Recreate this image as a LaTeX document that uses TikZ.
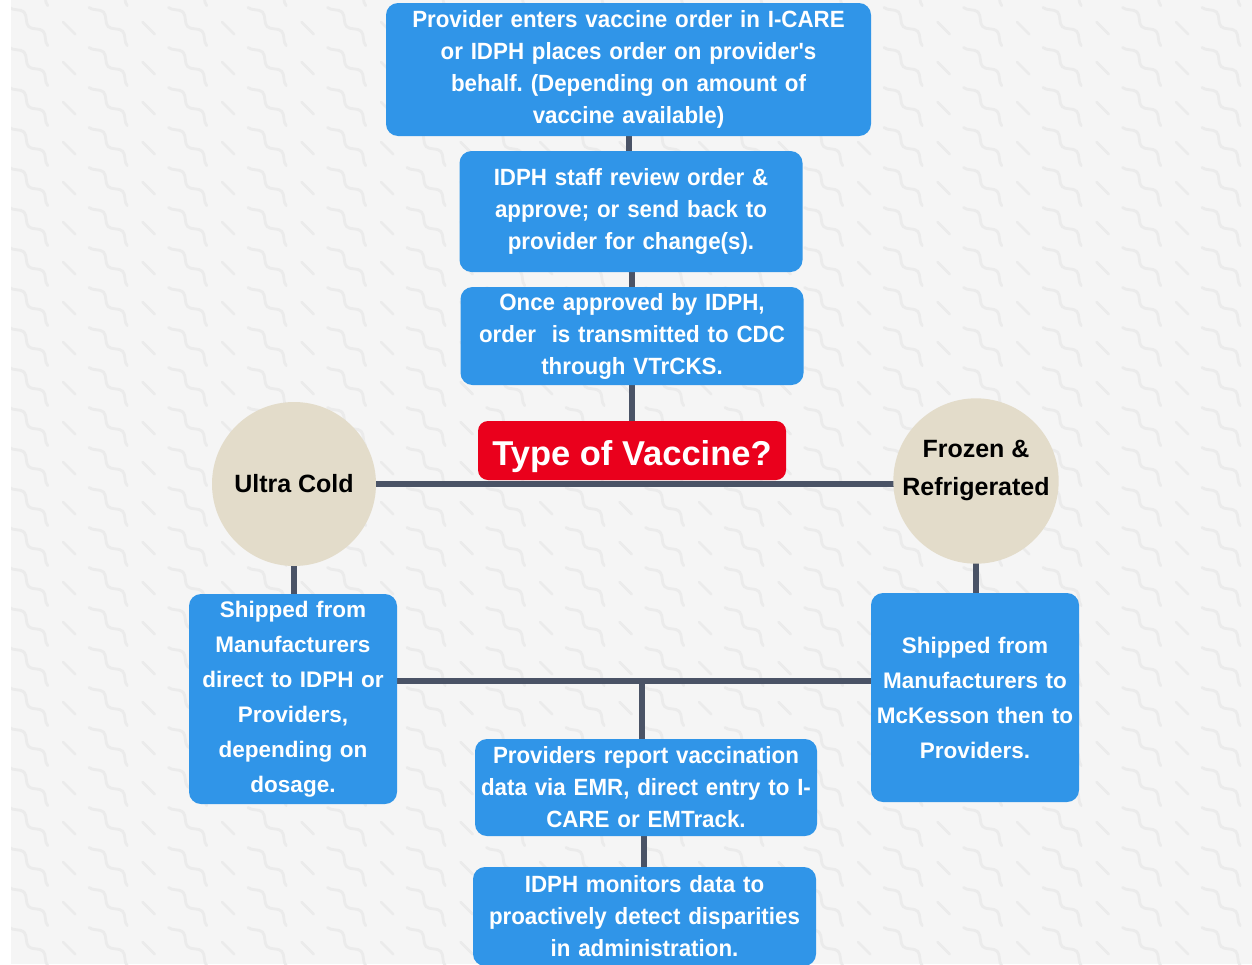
\documentclass[tikz,border=0pt]{standalone}
\usepackage{fontspec}
\setmainfont{Liberation Sans}
\newfontfamily\condfont[FakeStretch=0.95]{Liberation Sans}
\usetikzlibrary{calc}
\frenchspacing
\definecolor{bgray}{HTML}{F5F5F5}
\definecolor{patgray}{HTML}{EBEBEB}
\definecolor{boxblue}{HTML}{3095E8}
\definecolor{qred}{HTML}{EA001C}
\definecolor{beige}{HTML}{E3DCCA}
\definecolor{conngray}{HTML}{4A5366}
\pgfdeclarelayer{back}
\pgfdeclarelayer{mid}
\pgfsetlayers{back,mid,main}
\tikzset{
  pat/.style={draw=patgray, line width=2.8pt, line cap=round},
  conn/.style={draw=conngray, line width=6pt},
  bluebox/.style={fill=boxblue, rounded corners=12pt, text=white, align=center, inner sep=0pt},
  condtext/.style={font={\condfont\bfseries\frenchspacing\fontsize{23.5pt}{32pt}\selectfont}},
  widetext/.style={font={\bfseries\fontsize{22.5pt}{35pt}\selectfont}},
  typebox/.style={fill=qred, rounded corners=10pt, text=white, align=center, inner sep=0pt,
    font={\bfseries\fontsize{34.5pt}{40pt}\selectfont}},
  tempcircle/.style={circle, fill=beige, minimum size=164pt, inner sep=0pt, align=center,
    text=black, font={\bfseries\fontsize{25pt}{38pt}\selectfont}}
}
\begin{document}
\begin{tikzpicture}[x=1pt,y=-1pt]
\useasboundingbox (0,0) rectangle (1252,964);
\begin{pgfonlayer}{back}
  \fill[white] (0,0) rectangle (1252,964);
  \fill[bgray] (11,0) rectangle (1252,964);
  \begin{scope}
    \clip (11,0) rectangle (1252,964);
    \foreach \i in {0,...,15} {
      \foreach \j in {-1,...,24} {
        \draw[pat, shift={({12+79.5*\i},{5+40*\j})}, rotate=-45]
          (0,3.5) cos (6.75,0) sin (13.5,-3.5) cos (20.25,0) sin (27,3.5)
          cos (33.75,0) sin (40.5,-3.5) cos (47.25,0) sin (54,3.5);
        \draw[pat, shift={({63+79.5*\i},{22+40*\j})}, rotate=-45] (0,0) -- (17,0);
      }
    }
  \end{scope}
\end{pgfonlayer}

\node[bluebox, condtext, minimum width=485pt, minimum height=133pt, text width=485pt] (b1) at (628.5,69.5)
  {Provider enters vaccine order in I-CARE\\or IDPH places order on provider's\\behalf. (Depending on amount of\\vaccine available)};
\node[bluebox, condtext, minimum width=343pt, minimum height=121pt, text width=343pt] (b2) at (631,211.5)
  {IDPH staff review order \&\\approve; or send back to\\provider for change(s).};
\node[bluebox, condtext, minimum width=343pt, minimum height=98pt, text width=343pt] (b3) at (632,336)
  {Once approved by IDPH,\\order\ \ is transmitted to CDC\\through VTrCKS.};
\node[typebox, minimum width=308pt, minimum height=59pt] (tv) at (632,450.5)
  {\raisebox{-6pt}[\height][\depth]{Type of Vaccine?}};
\node[tempcircle] (uc) at (294,484) {Ultra Cold};
\node[tempcircle] (fz) at (976,481)
  {\raisebox{12pt}[\height][\depth]{\begin{tabular}{@{}c@{}}Frozen \&\\Refrigerated\end{tabular}}};
\node[bluebox, widetext, minimum width=208pt, minimum height=210pt, text width=208pt] (lb) at (293,699)
  {Shipped from\\Manufacturers\\direct to IDPH or\\Providers,\\depending on\\dosage.};
\node[bluebox, widetext, minimum width=208pt, minimum height=209pt, text width=208pt] (rb) at (975,697.5)
  {Shipped from\\Manufacturers to\\McKesson then to\\Providers.};
\coordinate (j) at (642,681);
\node[bluebox, condtext, minimum width=342pt, minimum height=97pt, text width=342pt] (pr) at (646,787.5)
  {Providers report vaccination\\data via EMR, direct entry to I-\\CARE or EMTrack.};
\node[bluebox, condtext, minimum width=343pt, minimum height=99pt, text width=343pt] (im) at (644.5,916.5)
  {IDPH monitors data to\\proactively detect disparities\\in administration.};

\begin{pgfonlayer}{mid}
  \draw[conn] (b1.south -| 629,0) -- (b2.north -| 629,0);
  \draw[conn] (b2.south -| 632,0) -- (b3.north -| 632,0);
  \draw[conn] (b3.south -| tv.north) -- (tv.north);
  \draw[conn] (uc.center) -- (uc.center -| fz.center);
  \draw[conn] (uc.center) -- (lb.north -| uc.center);
  \draw[conn] (fz.center) -- (rb.north -| fz.center);
  \draw[conn] (j -| lb.east) -- (j -| rb.west);
  \draw[conn] (j) -- (j |- pr.north);
  \draw[conn] (pr.south -| 644,0) -- (im.north -| 644,0);
\end{pgfonlayer}
\end{tikzpicture}
\end{document}
